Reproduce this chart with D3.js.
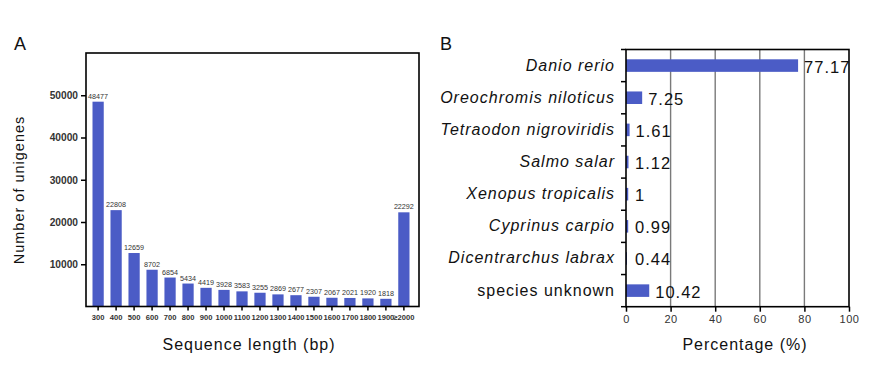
<!DOCTYPE html>
<html>
<head>
<meta charset="utf-8">
<script src="https://cdn.jsdelivr.net/npm/d3@7"></script>
<style>
  body { margin: 0; background: #fff; }
  svg { display: block; font-family: "Liberation Sans", Arial, sans-serif; }
</style>
</head>
<body>
<svg id="chart" width="883" height="367"></svg>
<script>
// ---- Data (panel A) ----
const lengthCategories = ["300","400","500","600","700","800","900","1000","1100","1200","1300","1400","1500","1600","1700","1800","1900","≥2000"];
const unigeneCounts = [48477,22808,12659,8702,6854,5434,4419,3928,3583,3255,2869,2677,2307,2067,2021,1920,1818,22292];
const yTicksA = [10000,20000,30000,40000,50000];

// ---- Data (panel B) ----
const species = ["Danio rerio","Oreochromis niloticus","Tetraodon nigroviridis","Salmo salar","Xenopus tropicalis","Cyprinus carpio","Dicentrarchus labrax","species unknown"];
const italicSpecies = [true,true,true,true,true,true,true,false];
const percentages = [77.17,7.25,1.61,1.12,1,0.99,0.44,10.42];
const xTicksB = [0,20,40,60,80,100];

const barColor = "#4b5cc6";
const svg = d3.select("#chart");

// ================= Panel A =================
(function(){
  const L = 86, R = 419, T = 53, B = 306.5;
  const x = d3.scaleBand().domain(lengthCategories).range([92.5, 409.5]).paddingInner(0.375).paddingOuter(0);
  const y = d3.scaleLinear().domain([0, 60000]).range([B, T]);

  const g = svg.append("g");

  // bars
  g.selectAll("rect.bar").data(unigeneCounts).join("rect")
    .attr("x", (d,i) => x(lengthCategories[i]))
    .attr("width", x.bandwidth())
    .attr("y", d => y(d))
    .attr("height", d => B - y(d))
    .attr("fill", barColor);

  // value labels
  g.selectAll("text.val").data(unigeneCounts).join("text")
    .attr("x", (d,i) => x(lengthCategories[i]) + x.bandwidth()/2)
    .attr("y", d => y(d) - 3)
    .attr("text-anchor", "middle")
    .attr("font-size", 7.2)
    .attr("fill", "#333")
    .text(d => d);

  // y axis
  const yAxis = d3.axisLeft(y).tickValues(yTicksA).tickSize(5).tickPadding(3).tickFormat(d3.format("d"));
  const ya = g.append("g").attr("transform", `translate(${L},0)`).call(yAxis);
  ya.select(".domain").remove();
  ya.selectAll(".tick line").attr("stroke", "#000").attr("stroke-width", 1.5);
  ya.selectAll(".tick text").attr("font-size", 10.2).attr("font-weight", "bold").attr("fill", "#333")
    .attr("font-family", "Liberation Sans, Arial, sans-serif");

  // x axis
  const xAxis = d3.axisBottom(x).tickSize(4).tickPadding(4);
  const xa = g.append("g").attr("transform", `translate(0,${B})`).call(xAxis);
  xa.select(".domain").remove();
  xa.selectAll(".tick line").attr("stroke", "#000").attr("stroke-width", 1.5);
  xa.selectAll(".tick text").attr("font-size", 7.6).attr("font-weight", "bold").attr("fill", "#333")
    .attr("font-family", "Liberation Sans, Arial, sans-serif");

  // frame
  g.append("rect").attr("x", L).attr("y", T).attr("width", R - L).attr("height", B - T)
    .attr("fill", "none").attr("stroke", "#000").attr("stroke-width", 1.6);

  // titles
  g.append("text").attr("x", 249).attr("y", 350).attr("text-anchor", "middle")
    .attr("font-size", 16).attr("letter-spacing", 1).attr("fill", "#111").text("Sequence length (bp)");
  g.append("text").attr("transform", "translate(24,190) rotate(-90)").attr("text-anchor", "middle")
    .attr("font-size", 14.5).attr("letter-spacing", 1).attr("fill", "#111").text("Number of unigenes");
  g.append("text").attr("x", 14).attr("y", 49.5).attr("font-size", 18).attr("fill", "#111").text("A");
})();

// ================= Panel B =================
(function(){
  const L = 626, R = 849, T = 49.5, B = 306.7;
  const x = d3.scaleLinear().domain([0, 100]).range([L, R]);
  const y = d3.scaleBand().domain(species).range([T, B]).paddingInner(0.61).paddingOuter(0.305);
  const yb = d3.scaleBand().domain(species).range([T, B]);

  const g = svg.append("g");

  // grid lines
  g.selectAll("line.grid").data(xTicksB.slice(1, -1)).join("line")
    .attr("x1", d => x(d)).attr("x2", d => x(d)).attr("y1", T).attr("y2", B)
    .attr("stroke", "#7a7a7a").attr("stroke-width", 1.4);

  // bars
  g.selectAll("rect.bar").data(percentages).join("rect")
    .attr("x", x(0))
    .attr("y", (d,i) => y(species[i]))
    .attr("width", d => x(d) - x(0))
    .attr("height", y.bandwidth())
    .attr("fill", barColor);

  // value labels
  g.selectAll("text.val").data(percentages).join("text")
    .attr("x", d => Math.max(x(d), x(0) + 3) + 6)
    .attr("y", (d,i) => yb(species[i]) + yb.bandwidth()/2 + 7)
    .attr("font-size", 16.5).attr("letter-spacing", 1).attr("fill", "#111")
    .text(d => d);

  // category labels
  g.selectAll("text.cat").data(species).join("text")
    .attr("x", 615)
    .attr("y", d => yb(d) + yb.bandwidth()/2 + 5)
    .attr("text-anchor", "end")
    .attr("font-size", 16).attr("letter-spacing", 1).attr("fill", "#111")
    .attr("font-style", (d,i) => italicSpecies[i] ? "italic" : "normal")
    .text(d => d);

  // y ticks at band boundaries
  const bounds = species.map(s => yb(s)).concat([B]);
  g.selectAll("line.ytick").data(bounds).join("line")
    .attr("x1", L - 5).attr("x2", L).attr("y1", d => d).attr("y2", d => d)
    .attr("stroke", "#000").attr("stroke-width", 1.5);

  // x axis
  const xAxis = d3.axisBottom(x).tickValues(xTicksB).tickSize(5).tickPadding(4);
  const xa = g.append("g").attr("transform", `translate(0,${B})`).call(xAxis);
  xa.select(".domain").remove();
  xa.selectAll(".tick line").attr("stroke", "#000").attr("stroke-width", 1.5);
  xa.selectAll(".tick text").attr("font-size", 11).attr("letter-spacing", 0.6).attr("fill", "#333")
    .attr("font-family", "Liberation Sans, Arial, sans-serif");

  // frame
  g.append("rect").attr("x", L).attr("y", T).attr("width", R - L).attr("height", B - T)
    .attr("fill", "none").attr("stroke", "#000").attr("stroke-width", 1.6);

  // titles
  g.append("text").attr("x", 745).attr("y", 350).attr("text-anchor", "middle")
    .attr("font-size", 16).attr("letter-spacing", 1).attr("fill", "#111").text("Percentage (%)");
  g.append("text").attr("x", 440).attr("y", 49.5).attr("font-size", 18).attr("fill", "#111").text("B");
})();
</script>
</body>
</html>
